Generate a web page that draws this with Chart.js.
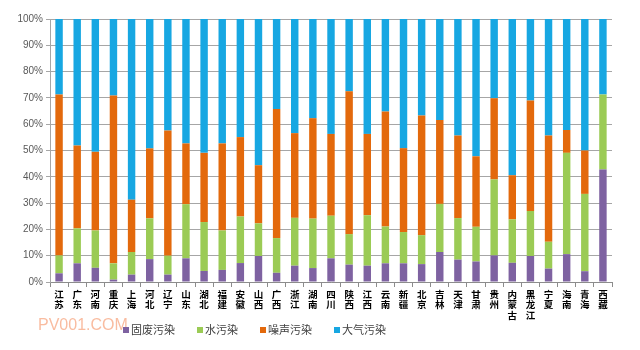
<!DOCTYPE html>
<html>
<head>
<meta charset="utf-8">
<script src="https://cdn.jsdelivr.net/npm/chart.js@4/dist/chart.umd.min.js"></script>
<style>
  html, body { margin: 0; padding: 0; background: #fff; }
  #wrap { width: 640px; height: 350px; }
</style>
</head>
<body>
<div id="wrap"><canvas id="c"></canvas></div>
<script>
const provinces = [
  ['江','苏'], ['广','东'], ['河','南'], ['重','庆'], ['上','海'], ['河','北'], ['辽','宁'],
  ['山','东'], ['湖','北'], ['福','建'], ['安','徽'], ['山','西'], ['广','西'], ['浙','江'],
  ['湖','南'], ['四','川'], ['陕','西'], ['江','西'], ['云','南'], ['新','疆'], ['北','京'],
  ['吉','林'], ['天','津'], ['甘','肃'], ['贵','州'], ['内','蒙','古'], ['黑','龙','江'],
  ['宁','夏'], ['海','南'], ['青','海'], ['西','藏']
];
// share of each pollution type, percent
const solidWaste = [3.3, 7.1, 5.4, 0.9, 2.8, 8.7, 2.8, 9.0, 4.2, 4.6, 7.2, 9.9, 3.5, 6.2, 5.3, 9.0,
  6.6, 6.2, 7.1, 7.1, 6.8, 11.4, 8.5, 7.8, 10.1, 7.3, 9.9, 5.1, 10.6, 4.1, 42.8];
const water = [6.8, 13.3, 14.2, 6.2, 8.6, 15.5, 7.2, 20.6, 18.6, 15.0, 17.7, 12.4, 13.2, 18.2, 18.8, 16.2,
  11.6, 19.2, 14.0, 11.9, 11.0, 18.3, 15.8, 13.2, 28.9, 16.5, 17.1, 10.2, 38.5, 29.4, 28.5];
const noise = [61.2, 31.5, 29.9, 63.8, 19.9, 26.6, 47.6, 23.1, 26.3, 33.1, 30.2, 22.1, 49.1, 32.2, 38.2, 31.1,
  54.3, 30.9, 43.7, 31.9, 45.5, 31.9, 31.4, 26.8, 30.9, 16.8, 42.0, 40.4, 8.7, 16.5, 0];
const air = [28.7, 48.1, 50.5, 29.1, 68.7, 49.2, 42.4, 47.3, 50.9, 47.3, 44.9, 55.6, 34.2, 43.4, 37.7, 43.7,
  27.5, 43.7, 35.2, 49.1, 36.7, 38.4, 44.3, 52.2, 30.1, 59.4, 31.0, 44.3, 42.2, 50.0, 28.7];
const yTicks = [0, 10, 20, 30, 40, 50, 60, 70, 80, 90, 100];

const legendPlugin = {
  id: 'bottomLegend',
  afterDraw(chart) {
    const ctx = chart.ctx;
    ctx.save();
    // watermark
    ctx.font = '16px "Liberation Sans", Arial, sans-serif';
    ctx.fillStyle = 'rgba(246,160,120,0.7)';
    ctx.textBaseline = 'alphabetic';
    ctx.fillText('PV001.COM', 38, 330);
    // legend
    ctx.font = '11px "Noto Sans CJK SC", sans-serif';
    ctx.textBaseline = 'middle';
    let x = 123;
    const y = 330;
    chart.data.datasets.forEach(ds => {
      ctx.fillStyle = ds.backgroundColor;
      ctx.fillRect(x, y - 3, 6, 6);
      ctx.fillStyle = '#404040';
      ctx.fillText(ds.label, x + 8, y);
      x += 8 + ctx.measureText(ds.label).width + 22;
    });
    ctx.restore();
  }
};

new Chart(document.getElementById('c'), {
  type: 'bar',
  data: {
    labels: provinces,
    datasets: [
      { label: '固废污染', data: solidWaste, backgroundColor: '#7E62A1' },
      { label: '水污染', data: water, backgroundColor: '#9BCB55' },
      { label: '噪声污染', data: noise, backgroundColor: '#E3690C' },
      { label: '大气污染', data: air, backgroundColor: '#17A7E2' }
    ]
  },
  options: {
    responsive: true,
    maintainAspectRatio: false,
    animation: false,
    layout: { padding: { top: 19, right: 28, left: 0, bottom: 0 } },
    datasets: { bar: { categoryPercentage: 1, barPercentage: 0.41 } },
    plugins: { legend: { display: false }, tooltip: { enabled: false } },
    scales: {
      x: {
        stacked: true,
        grid: { drawOnChartArea: false, drawTicks: true, tickLength: 5, color: '#8c8c8c' },
        border: { color: '#8c8c8c' },
        ticks: {
          autoSkip: false, maxRotation: 0, padding: 2, color: '#000',
          font: { family: '"Noto Sans CJK SC", sans-serif', size: 9.5, weight: 'bold', lineHeight: 1.1 }
        },
        afterFit(scale) { scale.height = 68; }
      },
      y: {
        stacked: true,
        min: 0, max: 100,
        afterBuildTicks(scale) { scale.ticks = yTicks.map(v => ({ value: v })); },
        grid: { color: '#a6a6a6', tickLength: 4 },
        border: { display: true, color: '#a6a6a6' },
        ticks: {
          padding: 3, color: '#595959',
          font: { family: '"Liberation Sans", Arial, sans-serif', size: 10 },
          callback: v => v + '%'
        },
        afterFit(scale) { scale.width = 50; }
      }
    }
  },
  plugins: [legendPlugin]
});
</script>
</body>
</html>
